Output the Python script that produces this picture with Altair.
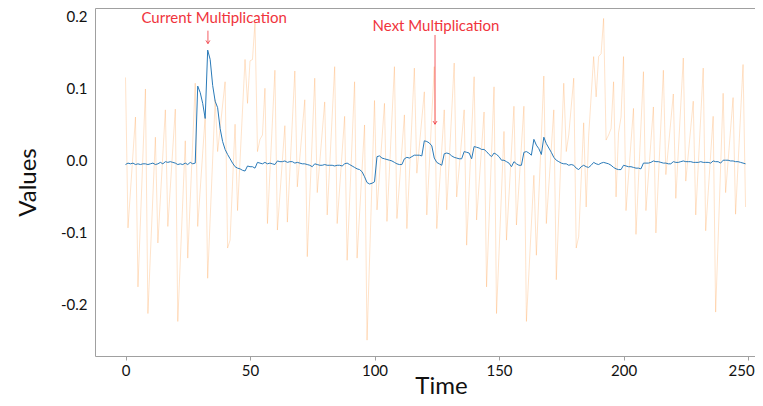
import altair as alt
import pandas as pd

# ---- orange (faint) series: vertices ----
orange_t = [0, 1, 4, 5, 8, 9, 12, 13, 16, 17, 20, 21, 24, 25, 28, 29, 32, 33, 36, 37,
            40, 41, 42, 44, 45, 48, 49, 50, 51, 52, 53, 54, 55, 56, 57, 60, 61, 64, 65, 68,
            69, 72, 73, 76, 77, 80, 81, 84, 85, 88, 89, 92, 93, 96, 97, 100, 101, 104, 105, 108,
            109, 112, 113, 116, 117, 120, 121, 124, 125, 128, 129, 132, 133, 136, 137, 140, 141, 144, 145, 148,
            149, 152, 153, 156, 157, 160, 161, 164, 165, 168, 169, 172, 173, 176, 177, 178, 180, 181, 182, 184,
            185, 186, 188, 189, 190, 191, 192, 193, 194, 195, 196, 197, 198, 199, 200, 201, 204, 205, 208, 209,
            212, 213, 216, 217, 220, 221, 224, 225, 228, 229, 232, 233, 236, 237, 240, 241, 244, 245, 248, 249]
orange_v = [0.116, -0.093, 0.061, -0.175, 0.100, -0.212, 0.033, -0.114, 0.071, -0.091, 0.072, -0.223, 0.028, -0.135, 0.108, -0.091, 0.062, -0.163, 0.085, 0.013,
            0.110, -0.121, -0.110, 0.051, -0.069, 0.141, 0.080, 0.139, 0.141, 0.193, 0.013, 0.030, 0.036, 0.101, -0.087, 0.126, -0.096, 0.049, -0.085, 0.125,
            -0.036, 0.085, -0.133, 0.115, -0.044, 0.082, -0.075, 0.131, -0.087, 0.062, -0.138, 0.110, -0.135, 0.050, -0.249, 0.084, -0.068, 0.080, -0.084, 0.131,
            -0.080, 0.064, -0.094, 0.129, -0.017, 0.096, -0.075, 0.131, -0.094, 0.071, -0.068, 0.136, -0.050, 0.071, -0.117, 0.117, -0.082, 0.068, -0.175, 0.103,
            -0.212, 0.041, -0.110, 0.076, -0.089, 0.076, -0.223, -0.020, -0.131, 0.118, -0.087, 0.071, -0.165, 0.108, 0.013, 0.036, 0.115, -0.121, -0.105, 0.053,
            -0.064, 0.035, 0.145, 0.089, 0.145, 0.149, 0.198, 0.029, 0.036, 0.045, 0.110, -0.050, 0.039, 0.061, 0.145, -0.069, 0.073, -0.102, 0.124, -0.069,
            0.075, -0.100, 0.126, -0.019, 0.093, -0.052, 0.143, -0.028, 0.083, -0.075, 0.129, -0.097, 0.062, -0.210, 0.094, -0.044, 0.088, -0.074, 0.134, -0.064]

# ---- blue series ----
blue_t = list(range(250))
blue_v = [-0.005, -0.003, -0.004, -0.003, -0.005, -0.004, -0.005, -0.004, -0.004, -0.005,
          -0.004, -0.003, -0.005, -0.004, -0.002, -0.004, -0.001, -0.002, -0.001, -0.002,
          -0.003, -0.005, -0.004, -0.005, -0.003, -0.005, -0.002, -0.004, -0.003, 0.104,
          0.095, 0.080, 0.059, 0.154, 0.141, 0.105, 0.083, 0.074, 0.045, 0.027,
          0.016, 0.009, 0.003, -0.003, -0.008, -0.010, -0.011, -0.013, -0.014, -0.007,
          -0.008, -0.008, -0.010, -0.002, -0.003, -0.004, -0.002, -0.004, -0.003, -0.004,
          -0.005, 0.000, -0.001, -0.001, 0.000, -0.002, -0.001, -0.001, -0.003, -0.002,
          -0.003, -0.004, -0.004, -0.005, -0.006, -0.008, -0.004, -0.005, -0.006, -0.006,
          -0.005, -0.006, -0.006, -0.006, -0.007, -0.006, -0.006, -0.007, -0.004, -0.003,
          -0.005, -0.007, -0.009, -0.011, -0.012, -0.015, -0.022, -0.030, -0.032, -0.031,
          -0.029, 0.006, 0.007, 0.004, 0.003, 0.002, 0.001, 0.000, -0.002, -0.004,
          -0.005, -0.005, 0.003, 0.005, 0.004, 0.006, 0.008, 0.008, 0.008, 0.007,
          0.028, 0.027, 0.025, 0.021, 0.004, -0.002, -0.004, -0.006, 0.010, 0.011,
          0.010, 0.007, 0.005, 0.004, 0.003, 0.003, 0.013, 0.012, 0.011, 0.003,
          0.020, 0.019, 0.018, 0.016, 0.016, 0.013, 0.009, 0.006, 0.011, 0.009,
          0.006, 0.001, 0.001, -0.001, -0.003, -0.008, -0.001, -0.004, -0.006, -0.006,
          0.012, 0.013, 0.011, 0.008, 0.030, 0.022, 0.017, 0.009, 0.033, 0.024,
          0.018, 0.012, 0.005, 0.001, -0.001, -0.003, -0.004, -0.004, -0.006, -0.005,
          -0.006, -0.010, -0.012, -0.008, -0.006, -0.008, -0.009, -0.006, -0.002, -0.004,
          -0.005, -0.003, -0.002, -0.003, -0.004, -0.006, -0.009, -0.011, -0.012, -0.012,
          -0.006, -0.007, -0.008, -0.008, -0.009, -0.010, -0.010, -0.011, -0.003, -0.003,
          -0.003, -0.002, 0.000, -0.001, -0.001, -0.002, -0.003, -0.003, -0.004, -0.004,
          -0.001, -0.002, -0.002, -0.001, 0.000, -0.001, -0.001, -0.001, -0.002, -0.002,
          -0.002, -0.001, -0.002, -0.002, -0.002, -0.003, 0.000, -0.001, -0.001, -0.003,
          0.001, 0.001, 0.001, 0.000, 0.000, -0.001, -0.001, -0.002, -0.003, -0.004]

# ---- annotations ----
ann_text = ["Current Multiplication", "Next Multiplication"]
ann_text_x = [35.6, 124.7]
ann_text_y = [0.192, 0.181]
arrow_x = [33.1, 124.3]
arrow_y_start = [0.181, 0.175]
arrow_y_end = [0.163, 0.051]

x_ticks = [0, 50, 100, 150, 200, 250]
y_ticks = [-0.2, -0.1, 0.0, 0.1, 0.2]
x_domain = [-12.25, 252.8]
y_domain = [-0.271, 0.2125]

FONT = "Lato"
RED = "#f0343c"

orange_df = pd.DataFrame({"Time": orange_t, "Values": orange_v})
blue_df = pd.DataFrame({"Time": blue_t, "Values": blue_v})
text_df = pd.DataFrame({"label": ann_text, "x": ann_text_x, "y": ann_text_y})
arrow_df = pd.DataFrame({"x": arrow_x, "y1": arrow_y_start, "y2": arrow_y_end})

xscale = alt.Scale(domain=x_domain, nice=False, zero=False)
yscale = alt.Scale(domain=y_domain, nice=False, zero=False)

xaxis = alt.Axis(
    values=x_ticks, format="d", title="Time", grid=False, domain=False,
    tickSize=4, tickColor="#a0a0a0", labelPadding=3, labelFontSize=15,
    labelFont=FONT, labelColor="#111",
    labelOffset={"condition": {"test": "datum.value == 250", "value": -7}, "value": 0},
    titleFont=FONT, titleFontSize=24,
    titleFontWeight="normal", titleColor="#111", titleBaseline="alphabetic",
    titleY=37, titleX=346, titleAlign="center",
)
yaxis = alt.Axis(
    values=y_ticks, title="Values", grid=False, domain=False, ticks=False,
    labelPadding=8, labelFontSize=15, labelFont=FONT, labelColor="#111",
    labelExpr="datum.value < 0 ? '-' + format(-datum.value, '.1f') : format(datum.value, '.1f')",
    titleFont=FONT, titleFontSize=24, titleFontWeight="normal", titleColor="#111",
    titleBaseline="alphabetic", titleX=-60,
)

orange = alt.Chart(orange_df).mark_line(
    color="#ff7f0e", strokeOpacity=0.22, strokeWidth=1
).encode(
    x=alt.X("Time:Q", scale=xscale, axis=xaxis),
    y=alt.Y("Values:Q", scale=yscale, axis=yaxis),
)

blue = alt.Chart(blue_df).mark_line(color="#2a7ab8", strokeWidth=1).encode(
    x=alt.X("Time:Q", scale=xscale),
    y=alt.Y("Values:Q", scale=yscale),
)

shafts = alt.Chart(arrow_df).mark_rule(color=RED, strokeWidth=1, opacity=0.8).encode(
    x=alt.X("x:Q", scale=xscale),
    y=alt.Y("y1:Q", scale=yscale),
    y2="y2:Q",
)

heads = alt.Chart(arrow_df).mark_point(
    shape="M-1,-1.6L0,0L1,-1.6", filled=False, color=RED, size=16,
    strokeWidth=1, opacity=0.8,
).encode(
    x=alt.X("x:Q", scale=xscale),
    y=alt.Y("y2:Q", scale=yscale),
)

texts = alt.Chart(text_df).mark_text(
    color=RED, font=FONT, fontSize=15, align="center", baseline="alphabetic"
).encode(
    x=alt.X("x:Q", scale=xscale),
    y=alt.Y("y:Q", scale=yscale),
    text="label:N",
)

chart = alt.layer(orange, blue, shafts, heads, texts).properties(
    width=660, height=348,
    autosize="none",
    padding={"left": 87, "top": 0, "right": 0, "bottom": 42},
    background="white",
).configure_view(stroke="#a0a0a0", strokeWidth=1)

chart.save("out.html", embed_options={"renderer": "svg", "actions": False})
